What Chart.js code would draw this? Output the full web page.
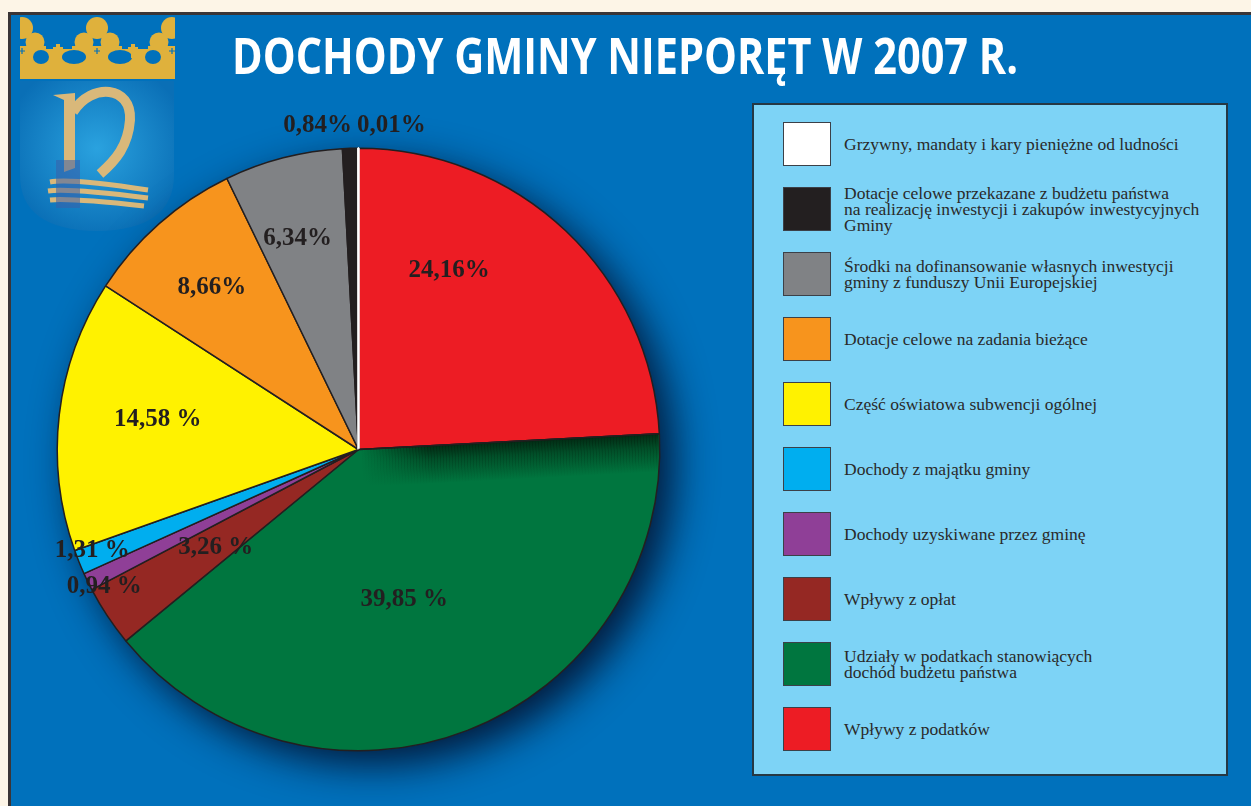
<!DOCTYPE html>
<html>
<head>
<meta charset="utf-8">
<script src="https://cdn.jsdelivr.net/npm/chart.js@4/dist/chart.umd.min.js"></script>
<style>
  html, body { margin:0; padding:0; }
  body { width:1251px; height:806px; overflow:hidden; position:relative; background:#fdf5e7; }
  #panel { position:absolute; left:8px; top:12px; width:1243px; height:794px; background:#0071bc;
           border-left:3px solid #3a3536; border-top:3px solid #3a3536; box-sizing:border-box; }
  #logo { position:absolute; left:0; top:0; }
  #wrap { position:absolute; left:0; top:0; width:1251px; height:806px; }
  #legendBox { position:absolute; left:752px; top:103px; width:476px; height:673px; background:#7dd3f6;
               border:2px solid #263844; box-sizing:border-box; }
  .row { position:absolute; left:783px; height:44px; display:flex; align-items:center; }
  .sw { width:48px; height:44px; box-sizing:border-box; border:1.5px solid #3b4048; flex:none; }
  .lt { margin-left:13px; font-family:"Liberation Serif","Times New Roman",serif; font-size:17.5px;
        line-height:16px; color:#2a2a2a; white-space:pre; }
</style>
</head>
<body>
<div id="panel"></div>
<svg id="logo" width="200" height="240" viewBox="0 0 200 240">
  <defs>
    <radialGradient id="sg" cx="0.5" cy="0.45" r="0.6">
      <stop offset="0" stop-color="#2aa2df"/>
      <stop offset="1" stop-color="#0a6fb6"/>
    </radialGradient>
    <clipPath id="cc"><rect x="20" y="10" width="155" height="75"/></clipPath>
  </defs>
  <path d="M20 81 L174 81 L174 175 Q174 230 97 231 Q20 230 20 175 Z" fill="url(#sg)"/>
  <g clip-path="url(#cc)">
    <g fill="#dfb13c">
      <rect x="20" y="46" width="155" height="33"/>
      <circle cx="97" cy="28" r="11"/><circle cx="84" cy="42" r="9.5"/><circle cx="110" cy="42" r="9.5"/>
      <circle cx="22" cy="28" r="11"/><circle cx="35" cy="42" r="9.5"/>
      <circle cx="172" cy="28" r="11"/><circle cx="159" cy="42" r="9.5"/>
    </g>
    <g fill="#0071bc">
      <rect x="46" y="44" width="26" height="5"/>
      <rect x="122" y="44" width="26" height="5"/>
      <ellipse cx="41" cy="57" rx="8" ry="7"/>
      <ellipse cx="74" cy="57" rx="12" ry="7"/>
      <ellipse cx="120" cy="57" rx="12" ry="7"/>
      <ellipse cx="153" cy="57" rx="8" ry="7"/>
    </g>
    <g fill="#dfb13c">
      <rect x="56" y="44" width="4" height="14"/><rect x="53" y="47" width="10" height="3"/>
      <rect x="131" y="44" width="4" height="14"/><rect x="128" y="47" width="10" height="3"/>
      <circle cx="22" cy="51" r="4.5"/><circle cx="97" cy="51" r="4.5"/><circle cx="172" cy="51" r="4.5"/>
    </g>
    <g stroke="#0071bc" stroke-width="1.2">
      <path d="M19 51 h6 M22 48 v6 M94 51 h6 M97 48 v6 M169 51 h6 M172 48 v6"/>
    </g>
  </g>
  <path d="M53 95 L75 93 L75 168 L64 172 L64 100 Z" fill="#d9b87a"/>
  <path d="M73 112 C 92 82, 132 86, 130 120 C 128 146, 116 160, 100 174" fill="none" stroke="#d9b87a" stroke-width="10" stroke-linecap="butt"/>
  <g fill="none" stroke="#d9b87a" stroke-width="5">
    <path d="M50 182 Q70 178 148 190"/>
    <path d="M48 191 Q68 188 148 198"/>
    <path d="M50 200 Q70 198 144 206"/>
  </g>
  <rect x="56" y="160" width="24" height="48" fill="#3b5fa8" opacity="0.55"/>
</svg>
<div id="wrap"><canvas id="c"></canvas></div>
<div id="legendBox"></div>
<div id="legendRows"></div>
<script>
// ---- data (pie order: clockwise from 12 o'clock) ----
const categories = [
  "Wpływy z podatków",
  "Udziały w podatkach stanowiących\ndochód budżetu państwa",
  "Wpływy z opłat",
  "Dochody uzyskiwane przez gminę",
  "Dochody z majątku gminy",
  "Część oświatowa subwencji ogólnej",
  "Dotacje celowe na zadania bieżące",
  "Środki na dofinansowanie własnych inwestycji\ngminy z funduszy Unii Europejskiej",
  "Dotacje celowe przekazane z budżetu państwa\nna realizację inwestycji i zakupów inwestycyjnych\nGminy",
  "Grzywny, mandaty i kary pieniężne od ludności"
];
const values = [24.16, 39.85, 3.26, 0.94, 1.31, 14.58, 8.66, 6.34, 0.84, 0.01];
const valueLabels = ["24,16%", "39,85 %", "3,26 %", "0,94 %", "1,31 %", "14,58 %", "8,66%", "6,34%", "0,84%", "0,01%"];
const colors = ["#ed1c24", "#00763f", "#952823", "#8f3f97", "#00aeef", "#fff200", "#f7941d", "#808285", "#231f20", "#ffffff"];
const title = "DOCHODY GMINY NIEPORĘT W 2007 R.";

// label placement (relative to pie centre, in units of radius)
const labelOffsets = [
  [0.301, -0.593], [0.152, 0.497], [-0.474, 0.325], [-0.844, 0.454], [-0.884, 0.334],
  [-0.666, -0.099], [-0.487, -0.536], [-0.202, -0.699], [-0.136, -1.076], [0.109, -1.076]
];

// ---- legend (top to bottom = reverse pie order) ----
const rowsEl = document.getElementById('legendRows');
const legendOrder = categories.map((_, i) => i).reverse();
legendOrder.forEach((idx, k) => {
  const row = document.createElement('div');
  row.className = 'row';
  row.style.top = (122 + 65 * k) + 'px';
  const sw = document.createElement('div');
  sw.className = 'sw';
  sw.style.background = colors[idx];
  const t = document.createElement('div');
  t.className = 'lt';
  t.textContent = categories[idx];
  row.appendChild(sw); row.appendChild(t);
  rowsEl.appendChild(row);
});

const shadowPlugin = {
  id: 'pieShadow',
  beforeDatasetsDraw(chart) {
    const arc = chart.getDatasetMeta(0).data[0];
    if (!arc) return;
    const ctx = chart.ctx;
    ctx.save();
    ctx.shadowColor = 'rgba(3,20,50,0.95)';
    ctx.shadowBlur = 40;
    ctx.shadowOffsetX = 14;
    ctx.shadowOffsetY = 14;
    ctx.beginPath();
    ctx.arc(arc.x, arc.y, arc.outerRadius, 0, Math.PI * 2);
    ctx.fillStyle = '#0a2a55';
    ctx.fill();
    ctx.restore();
  },
  afterDatasetsDraw(chart) {
    // soft shading cast by the first slice onto the second one
    const data = chart.getDatasetMeta(0).data;
    const a1 = data[1];
    const r = a1.outerRadius;
    const ctx = chart.ctx;
    ctx.save();
    ctx.beginPath();
    ctx.moveTo(a1.x, a1.y);
    ctx.arc(a1.x, a1.y, r - 1, a1.startAngle, a1.endAngle);
    ctx.closePath();
    ctx.clip();
    ctx.translate(a1.x, a1.y);
    ctx.rotate(a1.startAngle);
    const band = 38, step = 3;
    for (let x = 0; x < r + step; x += step) {
      const k = Math.min(1, x / 70);
      const g = ctx.createLinearGradient(0, 0, 0, band);
      g.addColorStop(0, 'rgba(2,30,12,' + (0.85 * k) + ')');
      g.addColorStop(0.35, 'rgba(2,30,12,' + (0.45 * k) + ')');
      g.addColorStop(1, 'rgba(2,30,12,0)');
      ctx.fillStyle = g;
      ctx.fillRect(x, -1, step + 0.5, band + 1);
    }
    ctx.restore();
    // redraw the separating line
    ctx.save();
    ctx.strokeStyle = '#231f20';
    ctx.lineWidth = 1.5;
    ctx.beginPath();
    ctx.moveTo(a1.x, a1.y);
    ctx.lineTo(a1.x + r * Math.cos(a1.startAngle), a1.y + r * Math.sin(a1.startAngle));
    ctx.stroke();
    ctx.restore();
  }
};

const labelPlugin = {
  id: 'sliceLabels',
  afterDatasetsDraw(chart) {
    const meta = chart.getDatasetMeta(0);
    const arc = meta.data[0];
    const ctx = chart.ctx;
    const r = arc.outerRadius;
    ctx.save();
    ctx.font = 'bold 25px "Liberation Serif", "Times New Roman", serif';
    ctx.fillStyle = '#231f20';
    ctx.textAlign = 'center';
    ctx.textBaseline = 'middle';
    valueLabels.forEach((lab, i) => {
      const [dx, dy] = labelOffsets[i];
      ctx.fillText(lab, arc.x + dx * r, arc.y + dy * r);
    });
    ctx.restore();
  },
  afterDraw(chart) {
    const ctx = chart.ctx;
    ctx.save();
    ctx.font = 'bold 50px "Open Sans", sans-serif';
    const w = ctx.measureText(title).width;
    ctx.translate(625, 74);
    ctx.scale(786 / w, 1);
    ctx.fillStyle = '#ffffff';
    ctx.textAlign = 'center';
    ctx.textBaseline = 'alphabetic';
    ctx.fillText(title, 0, 0);
    ctx.restore();
  }
};

new Chart(document.getElementById('c'), {
  type: 'pie',
  data: {
    labels: categories,
    datasets: [{
      data: values,
      backgroundColor: colors,
      borderColor: ['#231f20', '#231f20', '#231f20', '#231f20', '#231f20', '#231f20', '#231f20', '#231f20', '#231f20', '#ffffff'],
      borderWidth: [1.5, 1.5, 1.5, 1.5, 1.5, 1.5, 1.5, 1.5, 1.5, 2.5]
    }]
  },
  options: {
    responsive: true,
    maintainAspectRatio: false,
    animation: false,
    layout: { padding: { left: 56, top: 147, right: 590, bottom: 54 } },
    plugins: { legend: { display: false }, tooltip: { enabled: false } }
  },
  plugins: [shadowPlugin, labelPlugin]
});
</script>
</body>
</html>
